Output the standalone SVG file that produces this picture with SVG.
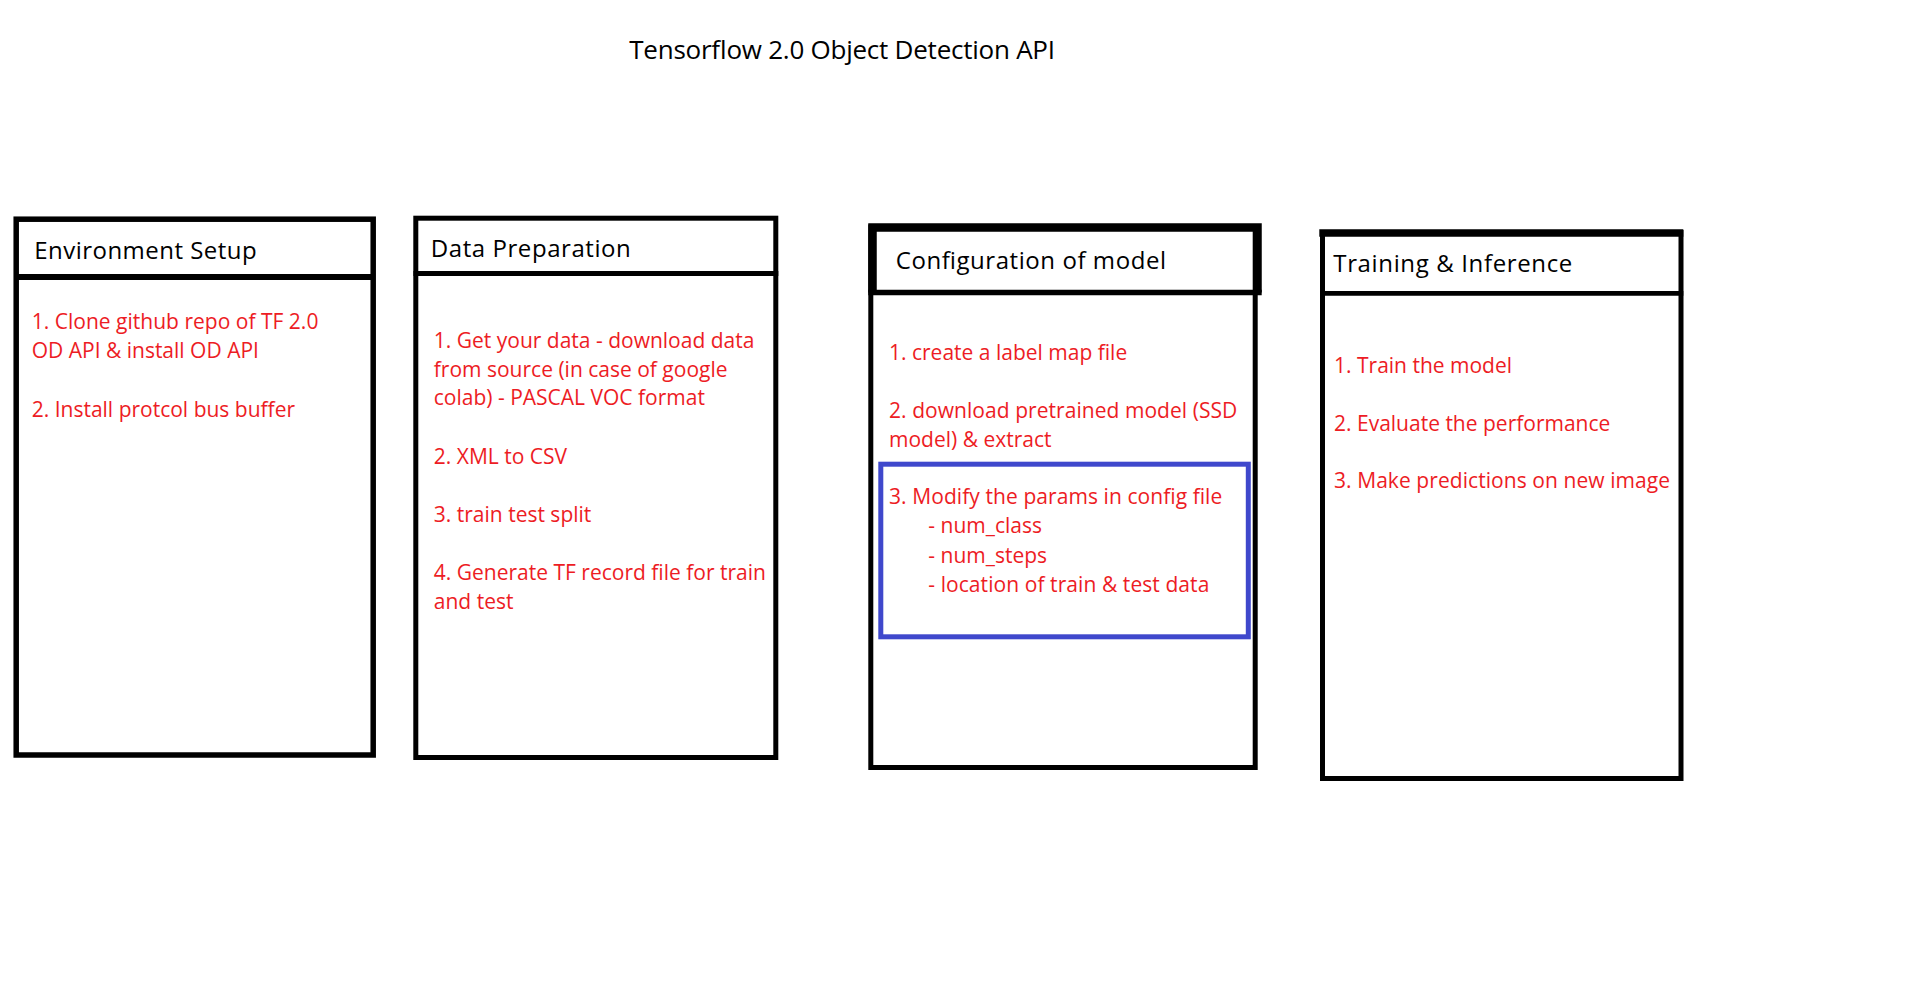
<svg xmlns="http://www.w3.org/2000/svg" width="1920" height="998" viewBox="0 0 1920 998">
<style>
.box{fill:none;stroke:#000;stroke-width:5;}
.hdr{font-family:"Open Sans","Noto Sans","Liberation Sans",sans-serif;font-size:24px;fill:#000;}
.item{font-family:"Open Sans","Noto Sans","Liberation Sans",sans-serif;font-size:21px;fill:#ED1C24;}
.title{font-family:"Open Sans","Noto Sans","Liberation Sans",sans-serif;font-size:26px;fill:#000;}
</style>
<rect x="0" y="0" width="1920" height="998" fill="#fff"/>
<text class="title" x="629.3" y="59.3" textLength="425.7">Tensorflow 2.0 Object Detection API</text>

<g id="env">
<rect class="box" x="16.2" y="219.2" width="357" height="535.8" style="stroke-width:5.5"/>
<line x1="14" y1="277" x2="375" y2="277" stroke="#000" stroke-width="6"/>
<text class="hdr" x="34.3" y="259.3" textLength="222.3">Environment Setup</text>
<text class="item" x="31.7" y="329.3" textLength="286.7">1. Clone github repo of TF 2.0</text>
<text class="item" x="31.7" y="358.3">OD API &amp; install OD API</text>
<text class="item" x="31.7" y="416.7">2. Install protcol bus buffer</text>
</g>

<g id="data">
<rect class="box" x="415.8" y="218.2" width="360" height="539.3"/>
<line x1="413.5" y1="273.5" x2="778.3" y2="273.5" stroke="#000" stroke-width="5"/>
<text class="hdr" x="430.8" y="257" textLength="200">Data Preparation</text>
<text class="item" x="433.8" y="347.8">1. Get your data - download data</text>
<text class="item" x="433.8" y="376.6">from source (in case of google</text>
<text class="item" x="433.8" y="405.4">colab) - PASCAL VOC format</text>
<text class="item" x="433.8" y="463.8">2. XML to CSV</text>
<text class="item" x="433.8" y="521.9">3. train test split</text>
<text class="item" x="433.8" y="580">4. Generate TF record file for train</text>
<text class="item" x="433.8" y="608.6">and test</text>
</g>

<g id="config">
<rect class="box" x="870.8" y="227" width="384.4" height="540.5"/>
<path d="M872.5,292.5 V227.5 H1257.5 V292.5" fill="none" stroke="#000" stroke-width="8.5"/>
<line x1="868.3" y1="292.5" x2="1261.7" y2="292.5" stroke="#000" stroke-width="5.5"/>
<text class="hdr" x="895.7" y="268.7" textLength="270.3">Configuration of model</text>
<text class="item" x="889" y="360">1. create a label map file</text>
<text class="item" x="889" y="418.3" textLength="348.3">2. download pretrained model (SSD</text>
<text class="item" x="889" y="446.8">model) &amp; extract</text>
<g id="params">
<rect x="880.8" y="464.2" width="367.5" height="172.6" fill="none" stroke="#3F48CC" stroke-width="5"/>
<text class="item" x="889" y="504.3" textLength="333.3">3. Modify the params in config file</text>
<text class="item" x="928.3" y="533.3">- num_class</text>
<text class="item" x="928.3" y="562.6">- num_steps</text>
<text class="item" x="928.3" y="591.8" textLength="281">- location of train &amp; test data</text>
</g>
</g>

<g id="training">
<rect class="box" x="1322.5" y="232.5" width="358.5" height="546"/>
<line x1="1319.3" y1="233" x2="1683.3" y2="233" stroke="#000" stroke-width="7.3"/>
<line x1="1320" y1="293.3" x2="1683.3" y2="293.3" stroke="#000" stroke-width="4.8"/>
<text class="hdr" x="1333.3" y="272.3" textLength="239">Training &amp; Inference</text>
<text class="item" x="1334" y="373.3">1. Train the model</text>
<text class="item" x="1334" y="431">2. Evaluate the performance</text>
<text class="item" x="1334" y="488.3" textLength="336">3. Make predictions on new image</text>
</g>
</svg>
